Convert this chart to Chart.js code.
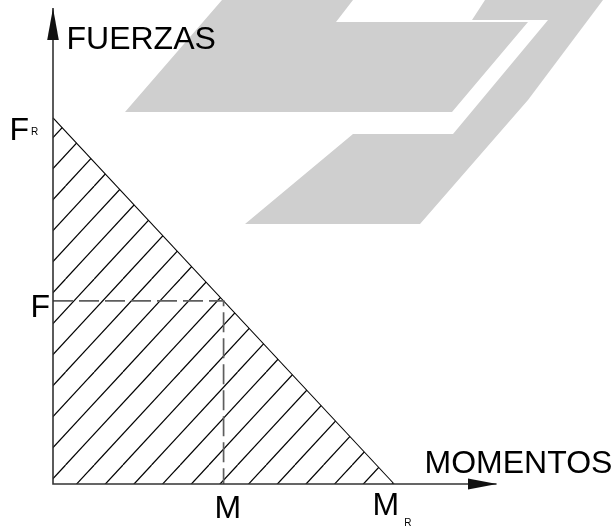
<!DOCTYPE html>
<html>
<head>
<meta charset="utf-8">
<script src="https://cdn.jsdelivr.net/npm/chart.js@4/dist/chart.umd.min.js"></script>
<style>
  html, body { margin: 0; padding: 0; background: #ffffff; }
  canvas { display: block; }
</style>
</head>
<body>
<canvas id="c" width="613" height="526"></canvas>
<script>
// ---------------- DATA ----------------
const axisMax = 13;                    // end of both axes (arrow tips)
const envelopeMomentos = [0, 10];      // x of the limit line: 0 .. M_R
const envelopeFuerzas = [10, 0];       // y of the limit line: F_R .. 0
const puntoMomento = 5;                // M
const puntoFuerza = 5;                 // F
const xTickValues = [5, 10];
const xTickLabels = ['M', 'M'];
const xTickSubscripts = ['', 'R'];
const yTickValues = [5, 10];
const yTickLabels = ['F', 'F'];
const yTickSubscripts = ['', 'R'];
const xAxisTitle = 'MOMENTOS';
const yAxisTitle = 'FUERZAS';

// ---------------- STYLE ----------------
const FONT = '"Liberation Sans", Arial, Helvetica, sans-serif';
const MAIN_SIZE = 32;
const SUB_SIZE = 10;
// label layout (pixel offsets from the tick position)
const xLabelLayout = [
  { dx: -9, dy: 34, subGap: 5, subDy: 0 },
  { dx: -21.6, dy: 31, subGap: 5, subDy: 10.5 }
];
const yLabelLayout = [
  { dx: -22.5, dy: 16, subGap: 2, subDy: -5 },
  { dx: -43.6, dy: 22, subGap: 2, subDy: -5 }
];
// decorative background watermark (pixel space)
const watermarkColor = '#cfcfcf';
const watermarkShapes = [
  [[222,0],[353,0],[336,22],[528,22],[452,112],[125,112]],
  [[485,0],[603,0],[528,100],[420,224],[245,224],[353,134],[453,134],[548,20],[472,20]]
];

// hatch pattern (lines rising to the right)
function makeHatch(ctx) {
  const w = 86, h = 93, a = w / 3, phase = 0.288;
  const t = document.createElement('canvas');
  t.width = w; t.height = h;
  const g = t.getContext('2d');
  g.strokeStyle = '#000000';
  g.lineWidth = 1.25;
  for (let k = -3; k <= 8; k++) {
    g.beginPath();
    g.moveTo(a * (k + phase), 0);
    g.lineTo(a * (k + phase - 3), h);
    g.stroke();
  }
  return ctx.createPattern(t, 'repeat');
}

const canvas = document.getElementById('c');
const ctx = canvas.getContext('2d');
const hatch = makeHatch(ctx);

const watermarkPlugin = {
  id: 'watermark',
  beforeDatasetsDraw(chart) {
    const c = chart.ctx;
    c.save();
    c.fillStyle = watermarkColor;
    watermarkShapes.forEach(poly => {
      c.beginPath();
      poly.forEach((p, i) => i ? c.lineTo(p[0], p[1]) : c.moveTo(p[0], p[1]));
      c.closePath();
      c.fill();
    });
    c.restore();
  }
};

function drawLabel(c, text, sub, x, baseline, lay) {
  c.font = MAIN_SIZE + 'px ' + FONT;
  c.textAlign = 'left';
  c.textBaseline = 'alphabetic';
  c.fillText(text, x, baseline);
  if (sub) {
    const w = c.measureText(text).width;
    c.font = SUB_SIZE + 'px ' + FONT;
    c.fillText(sub, x + w + lay.subGap, baseline + lay.subDy);
  }
}

const annotPlugin = {
  id: 'annot',
  afterDatasetsDraw(chart) {
    const c = chart.ctx;
    const xs = chart.scales.x, ys = chart.scales.y;
    const x0 = xs.getPixelForValue(0), y0 = ys.getPixelForValue(0);
    const xTip = xs.getPixelForValue(axisMax), yTip = ys.getPixelForValue(axisMax);
    c.save();
    c.fillStyle = '#111111';
    // arrow on vertical axis
    c.beginPath();
    c.moveTo(x0, yTip);
    c.lineTo(x0 - 5.8, yTip + 32);
    c.lineTo(x0 + 5.8, yTip + 32);
    c.closePath();
    c.fill();
    // arrow on horizontal axis
    c.beginPath();
    c.moveTo(xTip + 0.5, y0);
    c.lineTo(xTip - 28.5, y0 - 5.5);
    c.lineTo(xTip - 28.5, y0 + 5.5);
    c.closePath();
    c.fill();

    c.fillStyle = '#000000';
    // axis titles
    c.font = MAIN_SIZE + 'px ' + FONT;
    c.textAlign = 'left';
    c.textBaseline = 'alphabetic';
    c.fillText(yAxisTitle, x0 + 13.5, yTip + 41);
    c.fillText(xAxisTitle, xTip - 72, y0 - 11);
    // tick labels
    xTickValues.forEach((v, i) => {
      const px = xs.getPixelForValue(v);
      const lay = xLabelLayout[i];
      drawLabel(c, xTickLabels[i], xTickSubscripts[i], px + lay.dx, y0 + lay.dy, lay);
    });
    yTickValues.forEach((v, i) => {
      const py = ys.getPixelForValue(v);
      const lay = yLabelLayout[i];
      drawLabel(c, yTickLabels[i], yTickSubscripts[i], x0 + lay.dx, py + lay.dy, lay);
    });
    c.restore();
  }
};

new Chart(ctx, {
  type: 'scatter',
  data: {
    datasets: [
      {
        label: 'ejes',
        data: [{ x: 0, y: axisMax }, { x: 0, y: 0 }, { x: axisMax, y: 0 }],
        showLine: true,
        borderColor: '#333333',
        borderWidth: 1.6,
        pointRadius: 0,
        fill: false,
        clip: false
      },
      {
        label: 'punto',
        data: [{ x: 0, y: puntoFuerza }, { x: puntoMomento, y: puntoFuerza }, { x: puntoMomento, y: 0 }],
        showLine: true,
        borderColor: '#5e5e5e',
        borderWidth: 1.7,
        borderDash: [20, 6],
        pointRadius: 0,
        fill: false,
        clip: false
      },
      {
        label: 'envolvente',
        data: envelopeMomentos.map((m, i) => ({ x: m, y: envelopeFuerzas[i] })),
        showLine: true,
        borderColor: '#000000',
        borderWidth: 1.1,
        pointRadius: 0,
        fill: 'origin',
        backgroundColor: hatch,
        clip: false
      }
    ]
  },
  options: {
    responsive: false,
    devicePixelRatio: 1,
    animation: false,
    layout: { padding: { left: 53, right: 116.5, top: 8, bottom: 42 } },
    scales: {
      x: { type: 'linear', min: 0, max: axisMax, display: false },
      y: { type: 'linear', min: 0, max: axisMax, display: false }
    },
    plugins: {
      legend: { display: false },
      tooltip: { enabled: false },
      title: { display: false }
    }
  },
  plugins: [watermarkPlugin, annotPlugin]
});
</script>
</body>
</html>
